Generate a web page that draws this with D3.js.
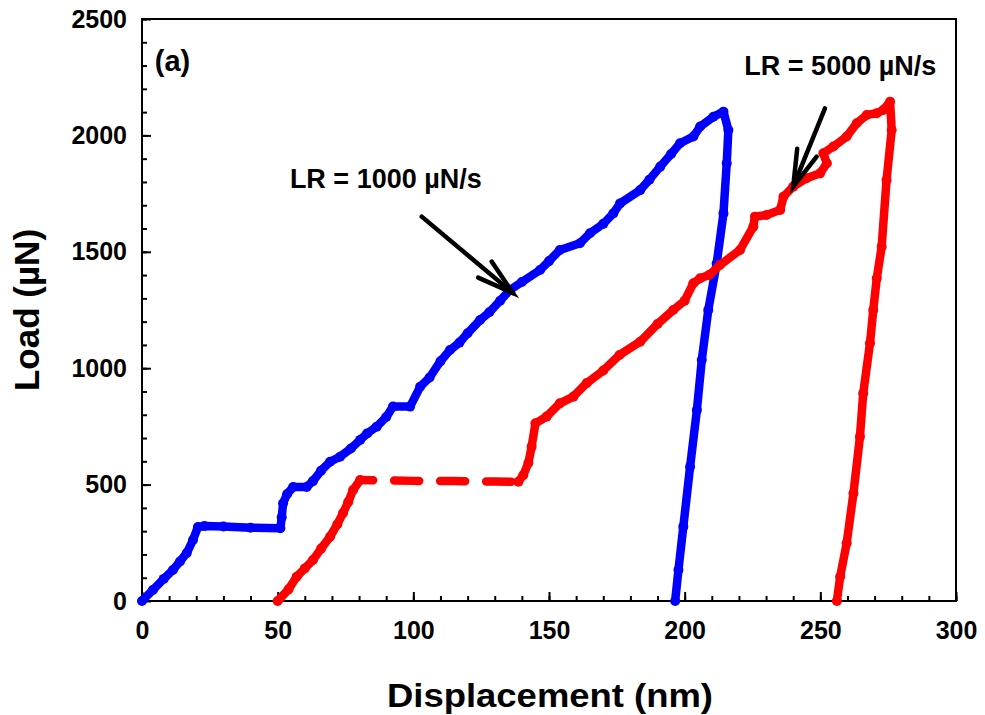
<!DOCTYPE html>
<html>
<head>
<meta charset="utf-8">
<script src="https://cdn.jsdelivr.net/npm/d3@7"></script>
<style>
  body { margin: 0; background: #fff; }
  text { font-family: "Liberation Sans", Arial, sans-serif; font-weight: bold; }
</style>
</head>
<body>
<div id="chart"></div>
<script>
// blue curve, LR = 1000 uN/s
const blueX = [0, 4, 8, 11.4, 14, 16.5, 18.8, 20.6, 23, 30, 40, 51, 51.5, 52, 53.5, 55.7, 60.7, 63, 66, 69.3, 73, 77, 80.4, 83, 86.5, 90, 92.5, 98.8, 102.5, 106, 110, 113.5, 117, 120, 124.6, 128, 132, 135.6, 140, 146.7, 150, 154, 161.4, 165.1, 170, 173.7, 176.2, 183.6, 187, 191, 195, 198.3, 203.2, 205.7, 210.6, 214.3, 216.1, 215.5, 214.3, 211.8, 208.7, 206.3, 204.5, 202, 199.5, 197.7, 196.5];
const blueY = [0, 47, 95, 133, 170, 206, 262, 318, 322, 320, 315, 313, 360, 420, 460, 490, 490, 515, 560, 598, 620, 655, 692, 720, 749, 790, 835, 835, 920, 960, 1030, 1078, 1110, 1150, 1207, 1240, 1290, 1336, 1370, 1422, 1460, 1508, 1537, 1580, 1620, 1665, 1708, 1765, 1810, 1866, 1920, 1966, 1995, 2038, 2080, 2102, 2023, 1880, 1665, 1450, 1250, 1035, 820, 577, 319, 133, 0];

// red curve, LR = 5000 uN/s
const redX = [50, 54, 57, 60, 63, 66, 69.3, 72, 74.1, 76, 77.8, 80.4, 85, 100, 115, 130, 138.7, 140.5, 142.4, 143.6, 145, 149.1, 154, 159, 163.9, 170, 176, 183.6, 190, 195.8, 200, 203.2, 205.7, 209, 213, 220.4, 225.3, 225.9, 230.2, 235.2, 236.4, 240, 244.9, 249.9, 252.4, 251.1, 254.8, 259.7, 263.4, 267.1, 270.8, 273.2, 275.7, 276.3, 274.4, 272.6, 270.8, 269.5, 268.3, 265.8, 264.6, 262.2, 259.7, 257.3, 256.1];
const redY = [0, 50, 104, 140, 176, 225, 276, 330, 378, 425, 477, 520, 519, 516, 515, 513, 512, 540, 593, 663, 763, 792, 849, 878, 936, 990, 1057, 1114, 1190, 1250, 1290, 1365, 1386, 1400, 1443, 1508, 1608, 1651, 1658, 1680, 1737, 1780, 1816, 1837, 1880, 1923, 1952, 1995, 2052, 2088, 2095, 2109, 2145, 2023, 1808, 1522, 1386, 1250, 1107, 892, 706, 463, 248, 104, 0];
// the hold segment of the red curve is dashed
const redDashFrom = 11, redDashTo = 16;

const xTicks = [0, 50, 100, 150, 200, 250, 300];
const yTicks = [0, 500, 1000, 1500, 2000, 2500];

const W = 985, H = 715;
const margin = { top: 19, right: 29, bottom: 114, left: 142 };

const x = d3.scaleLinear().domain([0, 300]).range([margin.left, W - margin.right]);
const y = d3.scaleLinear().domain([0, 2500]).range([H - margin.bottom, margin.top]);

const svg = d3.select('#chart').append('svg')
  .attr('width', W)
  .attr('height', H);

// axes with inward ticks
const xMinor = d3.range(0, 301, 10);
const yMinor = d3.range(0, 2501, 100);
const fmt = d3.format('d');

svg.append('g')
  .attr('transform', `translate(0,${y(0)})`)
  .call(d3.axisBottom(x).tickValues(xMinor).tickSize(-5).tickFormat(''))
  .call(g => g.select('.domain').remove())
  .selectAll('line').attr('stroke-width', 2);
svg.append('g')
  .attr('transform', `translate(0,${y(0)})`)
  .call(d3.axisBottom(x).tickValues(xTicks).tickSize(-9).tickPadding(20).tickFormat(fmt))
  .call(g => g.select('.domain').remove())
  .call(g => g.selectAll('line').attr('stroke-width', 2))
  .call(g => g.selectAll('text').attr('font-size', 25).attr('fill', '#000')
    .attr('font-family', '"Liberation Sans", Arial, sans-serif'));

svg.append('g')
  .attr('transform', `translate(${x(0)},0)`)
  .call(d3.axisLeft(y).tickValues(yMinor).tickSize(-5).tickFormat(''))
  .call(g => g.select('.domain').remove())
  .selectAll('line').attr('stroke-width', 2);
svg.append('g')
  .attr('transform', `translate(${x(0)},0)`)
  .call(d3.axisLeft(y).tickValues(yTicks).tickSize(-9).tickPadding(15).tickFormat(fmt))
  .call(g => g.select('.domain').remove())
  .call(g => g.selectAll('line').attr('stroke-width', 2))
  .call(g => g.selectAll('text').attr('font-size', 25).attr('fill', '#000')
    .attr('font-family', '"Liberation Sans", Arial, sans-serif'));

// frame
svg.append('rect')
  .attr('x', x(0)).attr('y', y(2500))
  .attr('width', x(300) - x(0)).attr('height', y(0) - y(2500))
  .attr('fill', 'none').attr('stroke', '#000').attr('stroke-width', 2);

const line = d3.line().x(d => x(d[0])).y(d => y(d[1]));

function drawCurve(xs, ys, color, dashFrom, dashTo) {
  const pts = xs.map((v, i) => [v, ys[i]]);
  let parts = [{ pts, dashed: false }];
  if (dashFrom != null) {
    parts = [
      { pts: pts.slice(0, dashFrom + 1), dashed: false },
      { pts: pts.slice(dashFrom, dashTo + 1), dashed: true },
      { pts: pts.slice(dashTo), dashed: false },
    ];
  }
  parts.forEach(p => {
    svg.append('path')
      .attr('d', line(p.pts))
      .attr('fill', 'none')
      .attr('stroke', color)
      .attr('stroke-width', 8.5)
      .attr('stroke-linecap', 'round')
      .attr('stroke-linejoin', 'round')
      .attr('stroke-dasharray', p.dashed ? '25,21' : null)
      .attr('stroke-dashoffset', p.dashed ? 12 : null);
  });
  svg.append('g').selectAll('circle')
    .data(pts.filter((d, i) => dashFrom == null || i <= dashFrom || i >= dashTo))
    .join('circle')
    .attr('cx', d => x(d[0]))
    .attr('cy', d => y(d[1]))
    .attr('r', 5)
    .attr('fill', color);
}

drawCurve(blueX, blueY, '#0000ff');
drawCurve(redX, redY, '#ff0000', redDashFrom, redDashTo);

// annotations
function arrow(x1, y1, x2, y2) {
  const px1 = x(x1), py1 = y(y1), px2 = x(x2), py2 = y(y2);
  const ang = Math.atan2(py2 - py1, px2 - px1);
  const len = 38, spread = 0.28;
  const g = svg.append('g').attr('stroke', '#000').attr('stroke-width', 4.5)
    .attr('stroke-linecap', 'round').attr('fill', 'none');
  g.append('line').attr('x1', px1).attr('y1', py1).attr('x2', px2).attr('y2', py2);
  g.append('path').attr('d',
    `M${px2 - len * Math.cos(ang - spread)},${py2 - len * Math.sin(ang - spread)}` +
    `L${px2},${py2}` +
    `L${px2 - len * Math.cos(ang + spread)},${py2 - len * Math.sin(ang + spread)}`);
}

arrow(103.1, 1651, 136.7, 1323);
arrow(251.7, 2116, 240, 1780);

svg.append('text').attr('x', x(54.5)).attr('y', y(1775))
  .attr('font-size', 27).text('LR = 1000 \u00b5N/s');
svg.append('text').attr('x', x(222)).attr('y', y(2258))
  .attr('font-size', 27).text('LR = 5000 \u00b5N/s');
svg.append('text').attr('x', x(4.7)).attr('y', y(2278))
  .attr('font-size', 29).text('(a)');

// axis titles
svg.append('text')
  .attr('x', 550).attr('y', 707)
  .attr('text-anchor', 'middle')
  .attr('font-size', 33)
  .attr('textLength', 326).attr('lengthAdjust', 'spacingAndGlyphs')
  .text('Displacement (nm)');
svg.append('text')
  .attr('transform', 'translate(39,310) rotate(-90)')
  .attr('text-anchor', 'middle')
  .attr('font-size', 35)
  .text('Load (\u00b5N)');
</script>
</body>
</html>
